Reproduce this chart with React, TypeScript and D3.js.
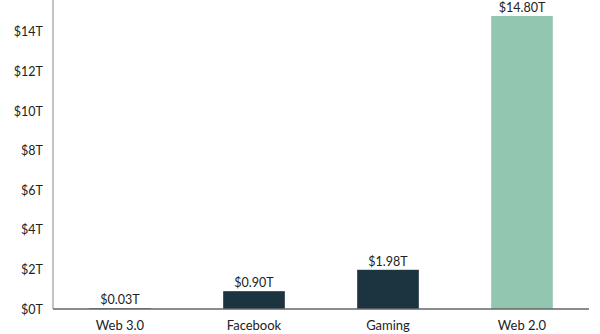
import React from "react";
import * as d3 from "d3";

const categories = ["Web 3.0", "Facebook", "Gaming", "Web 2.0"];
const values = [0.03, 0.9, 1.98, 14.8];
const barColors = ["#1c3440", "#1c3440", "#1c3440", "#93c6b1"];
const yTicks = [0, 2, 4, 6, 8, 10, 12, 14];

const W = 600;
const H = 334;
const x0 = 53;
const x1 = 589;
const yBase = 309;

export default function App() {
  const x = d3.scaleBand<string>().domain(categories).range([x0, x1]).paddingInner(0.54).paddingOuter(0.27);
  const y = d3.scaleLinear().domain([0, 16]).range([yBase, yBase - 316.8]);
  const font = "Lato, 'Open Sans', sans-serif";
  return (
    <svg width={W} height={H} style={{ position: "absolute", left: 0, top: 0 }}>
      <rect width={W} height={H} fill="#fff" />
      {yTicks.map((t) => (
        <text key={t} x={43} y={y(t)} dy="0.36em" textAnchor="end" fontSize={12.5} fill="#222" fontFamily={font}>
          {`$${t}T`}
        </text>
      ))}
      <line x1={x0} x2={x0} y1={0} y2={yBase} stroke="#888" strokeWidth={1} />
      {categories.map((c, i) => (
        <g key={c}>
          <rect x={x(c)} y={y(values[i])} width={x.bandwidth()} height={yBase - y(values[i])} fill={barColors[i]} />
          <text x={(x(c) as number) + x.bandwidth() / 2} y={y(values[i]) - 4} textAnchor="middle" fontSize={12.5} fill="#222" fontFamily={font}>
            {`$${values[i].toFixed(2)}T`}
          </text>
          <text x={(x(c) as number) + x.bandwidth() / 2} y={330} textAnchor="middle" fontSize={13} fill="#222" fontFamily={font}>
            {c}
          </text>
        </g>
      ))}
      <line x1={x0} x2={x1} y1={yBase} y2={yBase} stroke="#666" strokeWidth={1.6} />
    </svg>
  );
}
